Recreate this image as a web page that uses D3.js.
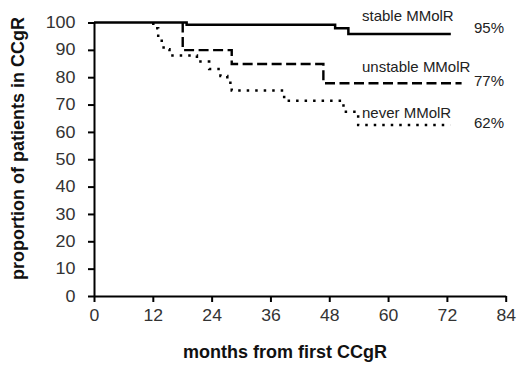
<!DOCTYPE html>
<html>
<head>
<meta charset="utf-8">
<script src="https://cdn.jsdelivr.net/npm/d3@7"></script>
<style>
  body { margin: 0; background: #fff; }
  svg { display: block; font-family: "Liberation Sans", Arial, sans-serif; }
</style>
</head>
<body>
<div id="chart"></div>
<script>
// data (months, % still in CCgR)
const seriesNames = ['stable MMolR', 'unstable MMolR', 'never MMolR'];
const endPercents = [95, 77, 62];

const stableMonths = [0, 18.9, 49.2, 51.9, 72.8];
const stableValues = [100, 99.2, 97.9, 95.8, 95.8];

const unstableMonths = [0, 18.1, 28.1, 46.8, 75];
const unstableValues = [100, 89.9, 84.8, 77.8, 77.8];

const neverMonths = [0, 12.1, 13.1, 14.2, 15.4, 21, 23.5, 25.8, 27.2, 28.1, 38.8, 50.9, 53.9, 72.7];
const neverValues = [100, 97.9, 93.3, 90.2, 87.9, 85.7, 83, 80.4, 78, 75.1, 71.4, 67.4, 62.5, 62.5];

const xTicks = [0, 12, 24, 36, 48, 60, 72, 84];
const yTicks = [0, 10, 20, 30, 40, 50, 60, 70, 80, 90, 100];

const width = 520, height = 366;

const svg = d3.select('#chart')
  .append('svg')
  .attr('width', width)
  .attr('height', height);

const x = d3.scaleLinear().domain([0, 84]).range([94, 505.7]);
const y = d3.scaleLinear().domain([0, 100]).range([296, 22.5]);

// axes
const xAxis = svg.append('g')
  .attr('transform', `translate(0,${y(0)})`)
  .call(d3.axisBottom(x).tickValues(xTicks).tickSize(6).tickSizeOuter(0).tickPadding(4));

const yAxis = svg.append('g')
  .attr('transform', `translate(${x(0)},0)`)
  .call(d3.axisLeft(y).tickValues(yTicks).tickSize(6).tickSizeOuter(0));

[xAxis, yAxis].forEach(ax => {
  ax.select('.domain').attr('stroke', '#000').attr('stroke-width', 2);
  ax.selectAll('.tick line').attr('stroke', '#000').attr('stroke-width', 2);
  ax.selectAll('.tick text')
    .attr('fill', '#333')
    .style('font-size', '16px')
    .style('font-family', '"Liberation Sans", Arial, sans-serif');
});

xAxis.selectAll('.tick text').attr('dy', '0.95em').attr('transform', 'scale(1.1,1)');
yAxis.selectAll('.tick text').attr('x', -16.5).attr('transform', 'scale(1.12,1)');

// curves
const line = d3.line()
  .x(d => x(d[0]))
  .y(d => y(d[1]))
  .curve(d3.curveStepAfter);

// the part at 100% sits under the solid curve, so start each broken line at its first drop
function fromFirstDrop(months, values) {
  const pts = d3.zip(months, values);
  const i = values.findIndex(v => v < 100);
  if (i <= 0) return pts;
  return [[months[i], values[i - 1]]].concat(pts.slice(i));
}

const series = [
  { pts: fromFirstDrop(neverMonths, neverValues), dash: '2.5,6', width: 2.5 },
  { pts: fromFirstDrop(unstableMonths, unstableValues), dash: '10,4.5', width: 2.4 },
  { pts: d3.zip(stableMonths, stableValues), dash: null, width: 2.5 }
];

series.forEach(s => {
  svg.append('path')
    .datum(s.pts)
    .attr('fill', 'none')
    .attr('stroke', '#000')
    .attr('stroke-width', s.width)
    .attr('stroke-dasharray', s.dash)
    .attr('d', line);
});

// labels beside the curve ends
const nameBase = [21, 72.3, 118.3];
const pctBase = [33.3, 85.7, 128.3];

seriesNames.forEach((name, i) => {
  svg.append('text')
    .attr('x', 362)
    .attr('y', nameBase[i])
    .attr('fill', '#222')
    .style('font-size', '15px')
    .text(name);

  svg.append('text')
    .attr('x', 474)
    .attr('y', pctBase[i])
    .attr('fill', '#222')
    .style('font-size', '15px')
    .text(endPercents[i] + '%');
});

// axis titles
svg.append('text')
  .attr('x', 285)
  .attr('y', 358)
  .attr('text-anchor', 'middle')
  .style('font-size', '18px')
  .style('font-weight', 'bold')
  .attr('fill', '#111')
  .text('months from first CCgR');

svg.append('text')
  .attr('transform', 'translate(24,148.5) rotate(-90)')
  .attr('text-anchor', 'middle')
  .style('font-size', '18px')
  .style('font-weight', 'bold')
  .attr('fill', '#111')
  .text('proportion of patients in CCgR');
</script>
</body>
</html>
